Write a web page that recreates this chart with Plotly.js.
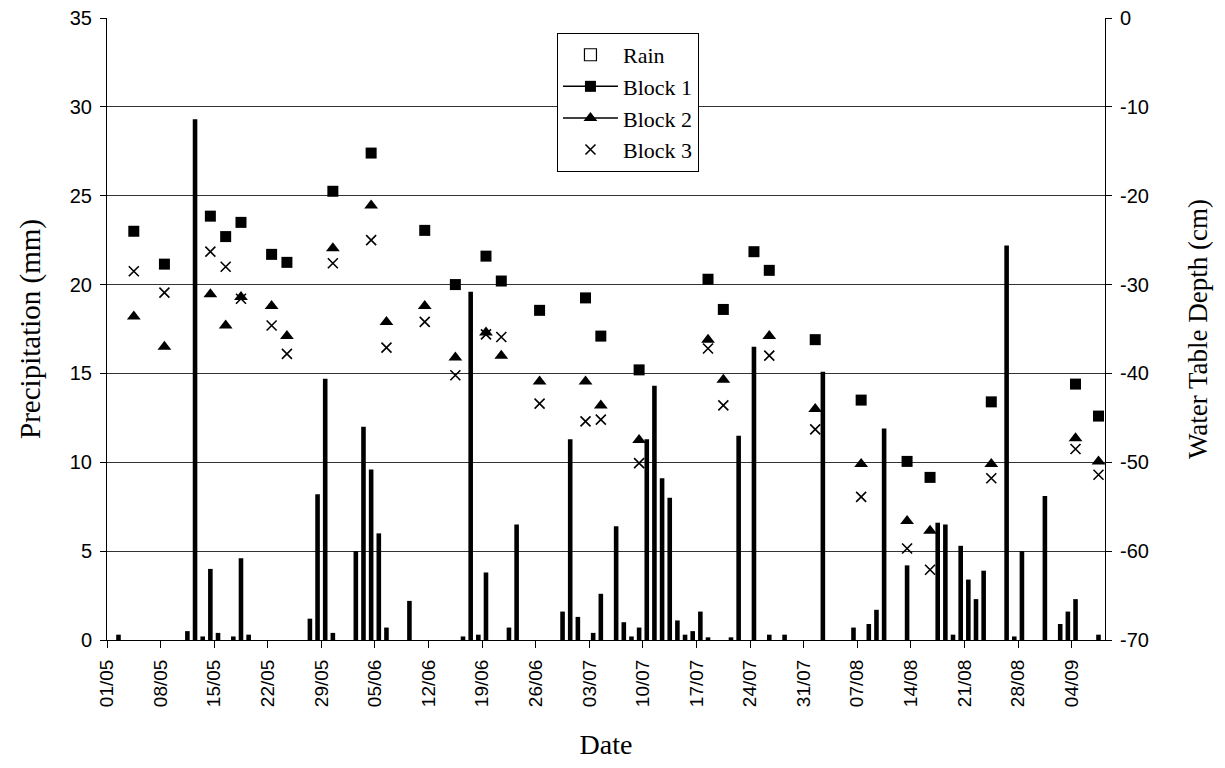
<!DOCTYPE html>
<html>
<head>
<meta charset="utf-8">
<script src="https://cdn.plot.ly/plotly-3.0.1.min.js"></script>
<style>html,body{margin:0;padding:0;background:#fff;}#chart{width:1225px;height:768px;}</style>
</head>
<body>
<div id="chart"></div>
<script>
// Daily rainfall (mm)
const rainDates = ['2002-05-02','2002-05-11','2002-05-12','2002-05-13','2002-05-14','2002-05-15','2002-05-17','2002-05-18','2002-05-19','2002-05-27','2002-05-28','2002-05-29','2002-05-30','2002-06-02','2002-06-03','2002-06-04','2002-06-05','2002-06-06','2002-06-09','2002-06-16','2002-06-17','2002-06-18','2002-06-19','2002-06-22','2002-06-23','2002-06-29','2002-06-30','2002-07-01','2002-07-03','2002-07-04','2002-07-06','2002-07-07','2002-07-08','2002-07-09','2002-07-10','2002-07-11','2002-07-12','2002-07-13','2002-07-14','2002-07-15','2002-07-16','2002-07-17','2002-07-18','2002-07-21','2002-07-22','2002-07-24','2002-07-26','2002-07-28','2002-08-02','2002-08-06','2002-08-08','2002-08-09','2002-08-10','2002-08-13','2002-08-17','2002-08-18','2002-08-19','2002-08-20','2002-08-21','2002-08-22','2002-08-23','2002-08-26','2002-08-27','2002-08-28','2002-08-31','2002-09-02','2002-09-03','2002-09-04','2002-09-07'];
const rainMm = [0.3,0.5,29.3,0.2,4.0,0.4,0.2,4.6,0.3,1.2,8.2,14.7,0.4,5.0,12.0,9.6,6.0,0.7,2.2,0.2,19.6,0.3,3.8,0.7,6.5,1.6,11.3,1.3,0.4,2.6,6.4,1.0,0.2,0.7,11.3,14.3,9.1,8.0,1.1,0.3,0.5,1.6,0.15,0.15,11.5,16.5,0.3,0.3,15.1,0.7,0.9,1.7,11.9,4.2,6.6,6.5,0.3,5.3,3.4,2.3,3.9,22.2,0.2,5.0,8.1,0.9,1.6,2.3,0.3];

// Water table depth measurements (cm)
const wtDates = ['2002-05-04','2002-05-08','2002-05-14','2002-05-16','2002-05-18','2002-05-22','2002-05-24','2002-05-30','2002-06-04','2002-06-06','2002-06-11','2002-06-15','2002-06-19','2002-06-21','2002-06-26','2002-07-02','2002-07-04','2002-07-09','2002-07-18','2002-07-20','2002-07-24','2002-07-26','2002-08-01','2002-08-07','2002-08-13','2002-08-16','2002-08-24','2002-09-04','2002-09-07'];
const block1 = [-24.0,-27.7,-22.3,-24.6,-23.0,-26.6,-27.5,-19.5,-15.2,null,-23.9,-30.0,-26.8,-29.6,-32.9,-31.5,-35.8,-39.6,-29.4,-32.8,-26.3,-28.4,-36.2,-43.0,-49.9,-51.7,-43.2,-41.2,-44.8];
const block2 = [-33.6,-37.0,-31.1,-34.6,-31.4,-32.4,-35.8,-25.9,-21.1,-34.2,-32.4,-38.2,-35.4,-38.0,-40.9,-40.9,-43.6,-47.5,-36.2,-40.7,null,-35.8,-44.0,-50.2,-56.6,-57.7,-50.2,-47.3,-49.9];
const block3 = [-28.5,-30.9,-26.3,-28.0,-31.6,-34.6,-37.8,-27.6,-25.0,-37.1,-34.2,-40.2,-35.6,-35.9,-43.4,-45.4,-45.2,-50.1,-37.2,-43.6,null,-38.0,-46.3,-53.9,-59.7,-62.1,-51.8,-48.5,-51.4];

// Axis ticks
const xTickVals = ['2002-05-01','2002-05-08','2002-05-15','2002-05-22','2002-05-29','2002-06-05','2002-06-12','2002-06-19','2002-06-26','2002-07-03','2002-07-10','2002-07-17','2002-07-24','2002-07-31','2002-08-07','2002-08-14','2002-08-21','2002-08-28','2002-09-04'];
const xTickText = ['01/05','08/05','15/05','22/05','29/05','05/06','12/06','19/06','26/06','03/07','10/07','17/07','24/07','31/07','07/08','14/08','21/08','28/08','04/09'];
const rightTickVals = [0,-10,-20,-30,-40,-50,-60,-70];
const rightTickText = ['0','-10','-20','-30','-40','-50','-60','-70'];
const xRange = ['2002-05-01','2002-09-08 08:24'];

const DAY = 86400000;
const serif = 'Liberation Serif, Times New Roman, serif';
const sans = 'Liberation Sans, Arial, sans-serif';

const traces = [
  {type:'bar', name:'Rain', x:rainDates, y:rainMm, xperiod:DAY, xperiodalignment:'middle',
   width:0.6*DAY, marker:{color:'#000', line:{width:0}}, showlegend:false, yaxis:'y'},
  {type:'scatter', mode:'markers', name:'Block 1', x:wtDates, y:block1, xperiod:DAY, xperiodalignment:'middle',
   marker:{symbol:'square', size:11, color:'#000'}, showlegend:false, yaxis:'y2'},
  {type:'scatter', mode:'markers', name:'Block 2', x:wtDates, y:block2, xperiod:DAY, xperiodalignment:'middle',
   marker:{symbol:'triangle-up', size:12, color:'#000'}, showlegend:false, yaxis:'y2'},
  {type:'scatter', mode:'markers', name:'Block 3', x:wtDates, y:block3, xperiod:DAY, xperiodalignment:'middle',
   marker:{symbol:'x-thin-open', size:10, color:'#000', line:{width:1.6, color:'#000'}}, showlegend:false, yaxis:'y2'},
  // legend entries
  {type:'bar', name:'Rain', x:[null], y:[null], marker:{color:'#fff', line:{color:'#000', width:1.2}}, yaxis:'y', hoverinfo:'skip'},
  {type:'scatter', mode:'lines+markers', name:'Block 1', x:[null], y:[null], line:{color:'#000', width:1.5},
   marker:{symbol:'square', size:11, color:'#000'}, yaxis:'y2', hoverinfo:'skip'},
  {type:'scatter', mode:'lines+markers', name:'Block 2', x:[null], y:[null], line:{color:'#000', width:1.5},
   marker:{symbol:'triangle-up', size:12, color:'#000'}, yaxis:'y2', hoverinfo:'skip'},
  {type:'scatter', mode:'markers', name:'Block 3', x:[null], y:[null],
   marker:{symbol:'x-thin-open', size:10, color:'#000', line:{width:1.6, color:'#000'}}, yaxis:'y2', hoverinfo:'skip'}
];

const layout = {
  width:1225, height:768,
  margin:{l:107, r:120, t:18, b:128},
  paper_bgcolor:'#fff', plot_bgcolor:'#fff',
  font:{family:sans, color:'#000'},
  showlegend:true,
  legend:{x:0.522, xanchor:'center', y:0.976, yanchor:'top', bordercolor:'#000', borderwidth:1, bgcolor:'#fff',
          font:{family:serif, size:22, color:'#000'}, traceorder:'normal', itemwidth:55, tracegroupgap:0},
  xaxis:{type:'date', range:xRange, tickvals:xTickVals, ticktext:xTickText, tickangle:-90,
         ticks:'outside', ticklen:7, tickcolor:'#000', showline:true, linecolor:'#000', linewidth:1,
         showgrid:false, zeroline:false, tickfont:{family:sans, size:19, color:'#000'}, ticklabelstandoff:4,
         title:{text:'Date', font:{family:serif, size:28, color:'#000'}, standoff:28}},
  yaxis:{range:[0,35], dtick:5, tick0:0, ticks:'outside', ticklen:6, tickcolor:'#000',
         showline:true, linecolor:'#000', linewidth:1, showgrid:true, gridcolor:'#333', gridwidth:1,
         zeroline:false, tickfont:{family:sans, size:20, color:'#000'}, ticklabelstandoff:4,
         title:{text:'Precipitation (mm)', font:{family:serif, size:29, color:'#000'}, standoff:20}},
  yaxis2:{overlaying:'y', side:'right', range:[-70,0], tickvals:rightTickVals, ticktext:rightTickText,
          ticks:'outside', ticklen:6, tickcolor:'#000', showline:true, linecolor:'#000', linewidth:1,
          showgrid:false, zeroline:false, tickfont:{family:sans, size:20, color:'#000'}, ticklabelstandoff:4,
          title:{text:'Water Table Depth (cm)', font:{family:serif, size:27, color:'#000'}, standoff:40}}
};

Plotly.newPlot('chart', traces, layout, {displayModeBar:false, staticPlot:true});
</script>
</body>
</html>
